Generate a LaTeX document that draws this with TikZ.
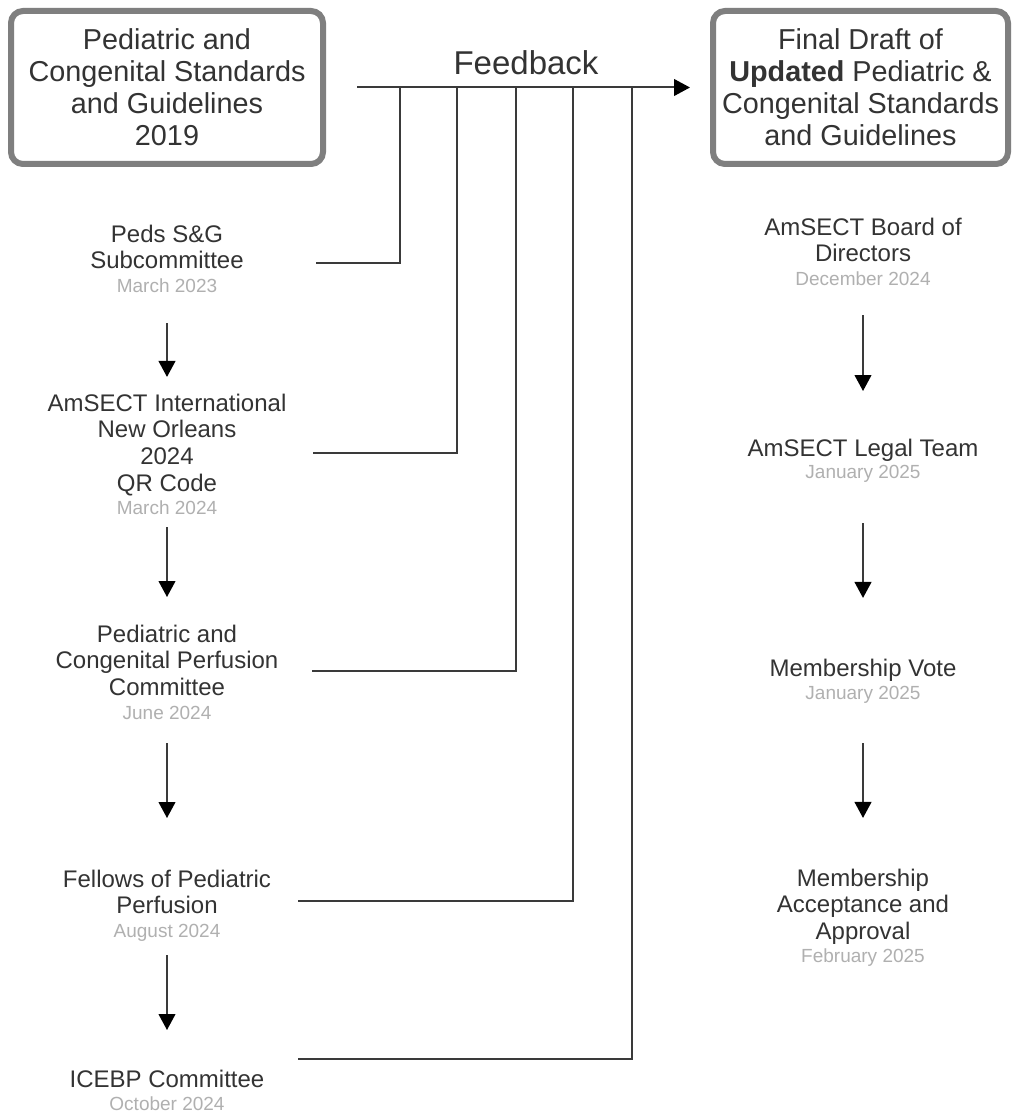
\documentclass[tikz,border=0pt]{standalone}
\usepackage{fontspec}
\setmainfont{Liberation Sans}
\usetikzlibrary{arrows.meta}
\definecolor{txt}{HTML}{333333}
\definecolor{datec}{HTML}{B0B0B0}
\definecolor{boxc}{HTML}{7F7F7F}
\definecolor{linec}{HTML}{3A3A3A}
\begin{document}
\begin{tikzpicture}[x=0.75pt,y=-0.75pt,
  bigbox/.style={draw=boxc,line width=4.5pt,rounded corners=9pt,minimum width=#1,minimum height=114.75pt,align=center,inner sep=0pt,text=txt,font=\fontsize{21.6}{24}\selectfont},
  title/.style={anchor=north,align=center,inner sep=0pt,text=txt,font=\fontsize{18}{20}\selectfont},
  datelbl/.style={anchor=base,inner sep=0pt,text=datec,font=\fontsize{14.25}{16}\selectfont},
  conn/.style={draw=linec,line width=1.5pt},
  arr/.style={conn,-{Triangle[width=12.5pt,length=12pt,color=black]}}]
\fill[white] (0,0) rectangle (1013,1116);
\useasboundingbox (0,0) rectangle (1013,1116);

% top boxes
\node[bigbox=234pt] (lb) at (167,87.5) {Pediatric and\\Congenital Standards\\and Guidelines\\2019};
\node[bigbox=221.25pt] (rb) at (860.5,87.5) {Final Draft of\\\textbf{Updated} Pediatric \&\\Congenital Standards\\and Guidelines};
\node[anchor=base,inner sep=0pt,text=txt,font=\fontsize{24.75}{28}\selectfont] (fb) at (526,75) {Feedback};
\draw[arr,shorten <=23.25pt,shorten >=15pt] (lb.east) -- (rb.west);

% left column
\node[title] (t1) at (167,224.5) {Peds S\&G\\Subcommittee};
\node[datelbl] (d1) at (167,292) {March 2023};
\node[title] (t2) at (167,393.5) {AmSECT International\\New Orleans\\2024\\QR Code};
\node[datelbl] (d2) at (167,514) {March 2024};
\node[title] (t3) at (167,624.5) {Pediatric and\\Congenital Perfusion\\Committee};
\node[datelbl] (d3) at (167,719) {June 2024};
\node[title] (t4) at (167,869.5) {Fellows of Pediatric\\Perfusion};
\node[datelbl] (d4) at (167,937) {August 2024};
\node[title] (t5) at (167,1069.5) {ICEBP Committee};
\node[datelbl] (d5) at (167,1110) {October 2024};

\draw[arr,shorten <=23.25pt,shorten >=12.4pt] (d1) -- (t2);
\draw[arr,shorten <=9.75pt,shorten >=20.6pt] (d2) -- (t3);
\draw[arr,shorten <=18pt,shorten >=38.6pt] (d3) -- (t4);
\draw[arr,shorten <=10.5pt,shorten >=29.6pt] (d4) -- (t5);

% right column
\node[title] (r1) at (863,217.5) {AmSECT Board of\\Directors};
\node[datelbl] (e1) at (863,285) {December 2024};
\node[title] (r2) at (863,438.5) {AmSECT Legal Team};
\node[datelbl] (e2) at (863,478) {January 2025};
\node[title] (r3) at (863,658.5) {Membership Vote};
\node[datelbl] (e3) at (863,699) {January 2025};
\node[title] (r4) at (863,868.5) {Membership\\Acceptance and\\Approval};
\node[datelbl] (e4) at (863,962) {February 2025};

\draw[arr,shorten <=22.5pt,shorten >=35.6pt] (e1) -- (r2);
\draw[arr,shorten <=30.75pt,shorten >=45.4pt] (e2) -- (r3);
\draw[arr,shorten <=30pt,shorten >=37.9pt] (e3) -- (r4);

% feedback connectors
\coordinate (f1) at (400,88);
\coordinate (f2) at (457,88);
\coordinate (f3) at (516,88);
\coordinate (f4) at (573,88);
\coordinate (f5) at (632,88);
\coordinate (s1) at (316,263);
\coordinate (s2) at (313,452.5);
\coordinate (s3) at (312,670.5);
\coordinate (s4) at (298,901);
\coordinate (s5) at (298,1059);
\draw[conn] (s1) -| (f1);
\draw[conn] (s2) -| (f2);
\draw[conn] (s3) -| (f3);
\draw[conn] (s4) -| (f4);
\draw[conn] (s5) -| (f5);
\end{tikzpicture}
\end{document}
